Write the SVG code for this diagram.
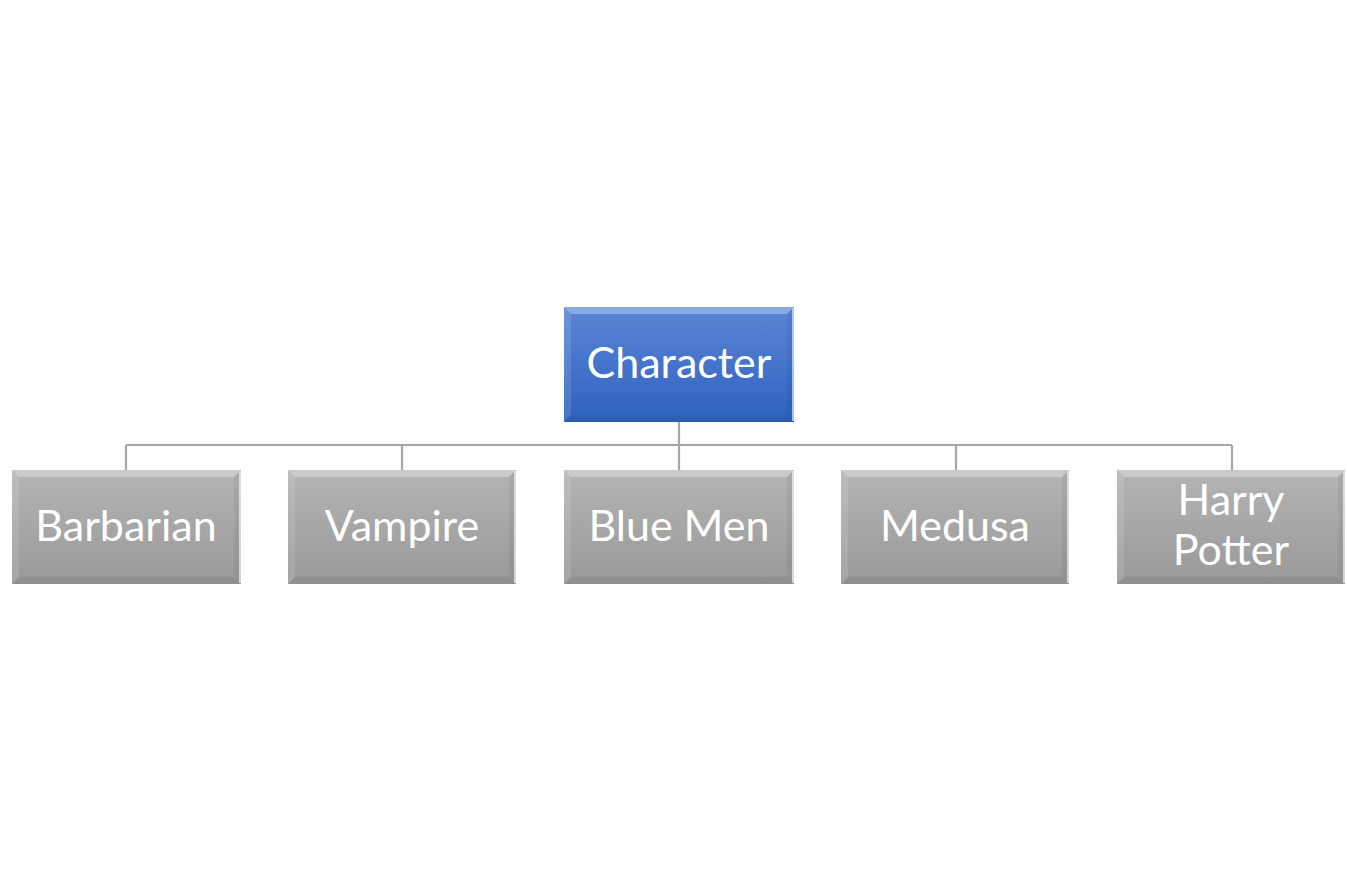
<svg xmlns="http://www.w3.org/2000/svg" width="1347" height="889" viewBox="0 0 1347 889">
<defs>
<linearGradient id="gBlue" x1="0" y1="0" x2="0" y2="1">
<stop offset="0" stop-color="#5b86d6"/>
<stop offset="1" stop-color="#2e61bf"/>
</linearGradient>
<linearGradient id="gGray" x1="0" y1="0" x2="0" y2="1">
<stop offset="0" stop-color="#b4b4b4"/>
<stop offset="1" stop-color="#999999"/>
</linearGradient>
<style>
.lbl{font-family:Lato,"Open Sans",sans-serif;font-size:43px;fill:#ffffff;text-anchor:middle}
.conn{fill:none;stroke:#a6a6a6;stroke-width:2.2}
.hiT{fill:#ffffff;fill-opacity:0.3}
.hiL{fill:#ffffff;fill-opacity:0.12}
.shR{fill:#000000;fill-opacity:0.05}
.shB{fill:#000000;fill-opacity:0.06}
</style>
</defs>
<rect width="1347" height="889" fill="#ffffff"/>
<g id="connectors">
<path class="conn" d="M679 422V445M126 445H1232M126 445V470M402 445V470M679 445V470M956 445V470M1232 445V470"/>
</g>
<g id="character">
<rect x="564" y="307" width="230" height="115" fill="url(#gBlue)"/>
<polygon class="hiT" points="564,307 794,307 787,314 571,314"/>
<polygon class="hiL" points="564,307 571,314 571,415 564,422"/>
<polygon class="shR" points="794,307 794,422 787,415 787,314"/>
<polygon class="shB" points="564,422 794,422 787,415 571,415"/>
<line x1="793" y1="308" x2="793" y2="421" stroke="#cfe0ff" stroke-width="1.5"/>
<text class="lbl" x="679" y="378">Character</text>
</g>
<g id="barbarian">
<rect x="12" y="470" width="229" height="114" fill="url(#gGray)"/>
<polygon class="hiT" points="12,470 241,470 234,477 19,477"/>
<polygon class="hiL" points="12,470 19,477 19,577 12,584"/>
<polygon class="shR" points="241,470 241,584 234,577 234,477"/>
<polygon class="shB" points="12,584 241,584 234,577 19,577"/>
<line x1="240" y1="471" x2="240" y2="583" stroke="#eeeeee" stroke-width="1.5"/>
<text class="lbl" x="126" y="541">Barbarian</text>
</g>
<g id="vampire">
<rect x="288" y="470" width="228" height="114" fill="url(#gGray)"/>
<polygon class="hiT" points="288,470 516,470 509,477 295,477"/>
<polygon class="hiL" points="288,470 295,477 295,577 288,584"/>
<polygon class="shR" points="516,470 516,584 509,577 509,477"/>
<polygon class="shB" points="288,584 516,584 509,577 295,577"/>
<line x1="515" y1="471" x2="515" y2="583" stroke="#eeeeee" stroke-width="1.5"/>
<text class="lbl" x="402" y="541">Vampire</text>
</g>
<g id="bluemen">
<rect x="564" y="470" width="230" height="114" fill="url(#gGray)"/>
<polygon class="hiT" points="564,470 794,470 787,477 571,477"/>
<polygon class="hiL" points="564,470 571,477 571,577 564,584"/>
<polygon class="shR" points="794,470 794,584 787,577 787,477"/>
<polygon class="shB" points="564,584 794,584 787,577 571,577"/>
<line x1="793" y1="471" x2="793" y2="583" stroke="#eeeeee" stroke-width="1.5"/>
<text class="lbl" x="679" y="541">Blue Men</text>
</g>
<g id="medusa">
<rect x="841" y="470" width="228" height="114" fill="url(#gGray)"/>
<polygon class="hiT" points="841,470 1069,470 1062,477 848,477"/>
<polygon class="hiL" points="841,470 848,477 848,577 841,584"/>
<polygon class="shR" points="1069,470 1069,584 1062,577 1062,477"/>
<polygon class="shB" points="841,584 1069,584 1062,577 848,577"/>
<line x1="1068" y1="471" x2="1068" y2="583" stroke="#eeeeee" stroke-width="1.5"/>
<text class="lbl" x="955" y="541">Medusa</text>
</g>
<g id="harrypotter">
<rect x="1117" y="470" width="228" height="114" fill="url(#gGray)"/>
<polygon class="hiT" points="1117,470 1345,470 1338,477 1124,477"/>
<polygon class="hiL" points="1117,470 1124,477 1124,577 1117,584"/>
<polygon class="shR" points="1345,470 1345,584 1338,577 1338,477"/>
<polygon class="shB" points="1117,584 1345,584 1338,577 1124,577"/>
<line x1="1344" y1="471" x2="1344" y2="583" stroke="#eeeeee" stroke-width="1.5"/>
<text class="lbl" x="1231" y="515">Harry</text>
<text class="lbl" x="1231" y="565">Potter</text>
</g>
</svg>
